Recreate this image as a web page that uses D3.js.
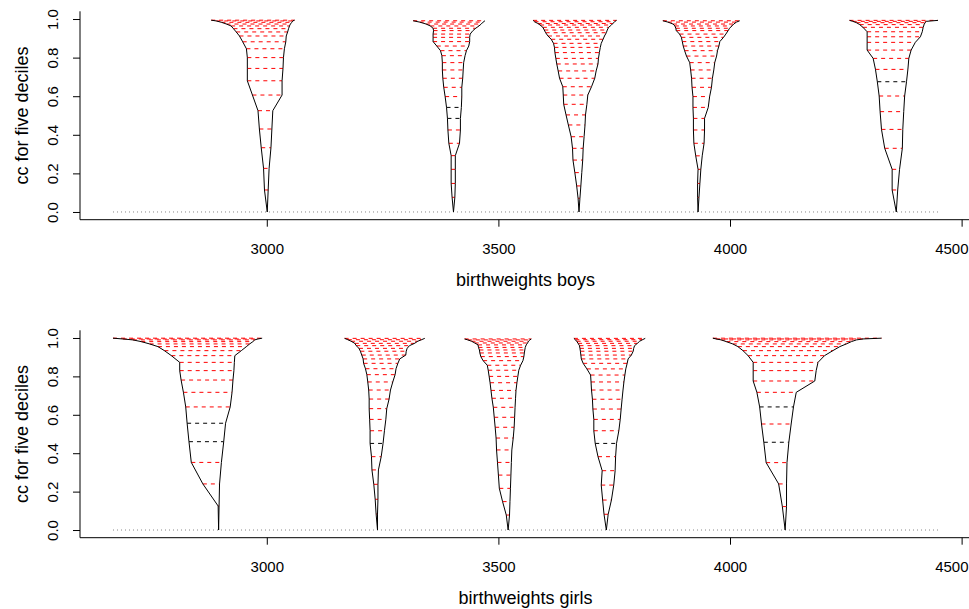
<!DOCTYPE html>
<html>
<head>
<meta charset="utf-8">
<script src="https://cdn.jsdelivr.net/npm/d3@7"></script>
<style>
  body { margin: 0; background: #fff; }
  text { font-family: "Liberation Sans", Arial, sans-serif; }
</style>
</head>
<body>
<svg id="chart" width="969" height="609"></svg>
<script>
// tick values
const xTicks = [3000, 3500, 4000, 4500];
const yTicks = [0, 0.2, 0.4, 0.6, 0.8, 1.0];

//----------- boys : one funnel per decile -----------//
const boysDeciles = [3001, 3403, 3674, 3931, 4359];
const boysLevels = [
  [0.114, 0.226, 0.333, 0.43, 0.525, 0.606, 0.68, 0.744, 0.80, 0.846, 0.882, 0.912, 0.933, 0.95, 0.964, 0.974, 0.983, 0.99, 0.994],
  [0.076, 0.148, 0.221, 0.292, 0.356, 0.425, 0.485, 0.542, 0.598, 0.646, 0.693, 0.736, 0.774, 0.81, 0.836, 0.86, 0.883, 0.905, 0.922, 0.94, 0.952, 0.964, 0.974, 0.984, 0.991],
  [0.071, 0.135, 0.204, 0.269, 0.33, 0.39, 0.451, 0.503, 0.558, 0.606, 0.649, 0.693, 0.731, 0.767, 0.796, 0.826, 0.853, 0.874, 0.895, 0.912, 0.929, 0.943, 0.957, 0.969, 0.977, 0.986, 0.993],
  [0.076, 0.148, 0.221, 0.291, 0.356, 0.425, 0.485, 0.542, 0.598, 0.646, 0.693, 0.736, 0.774, 0.808, 0.836, 0.86, 0.883, 0.905, 0.922, 0.94, 0.952, 0.964, 0.974, 0.984, 0.991],
  [0.114, 0.221, 0.33, 0.428, 0.52, 0.601, 0.675, 0.739, 0.796, 0.839, 0.879, 0.908, 0.934, 0.957, 0.971, 0.981, 0.988, 0.993]
];
const boysLower = [
  [2995, 2993, 2988, 2984, 2981, 2969, 2958, 2958, 2958, 2956, 2948, 2941, 2934, 2928, 2923, 2913, 2902, 2891, 2880],
  [3400, 3398, 3398, 3398, 3393, 3391, 3390, 3388, 3385, 3382, 3380, 3379, 3379, 3378, 3375, 3367, 3359, 3359, 3359, 3360, 3359, 3353, 3344, 3330, 3316],
  [3672, 3669, 3665, 3661, 3660, 3657, 3651, 3646, 3641, 3640, 3639, 3632, 3629, 3626, 3624, 3622, 3621, 3619, 3614, 3607, 3602, 3599, 3596, 3590, 3585, 3578, 3575],
  [3930, 3930, 3931, 3926, 3922, 3921, 3921, 3920, 3920, 3918, 3917, 3915, 3913, 3906, 3902, 3899, 3897, 3895, 3891, 3884, 3883, 3881, 3877, 3866, 3855],
  [4350, 4350, 4334, 4327, 4324, 4322, 4318, 4314, 4309, 4296, 4296, 4296, 4296, 4287, 4280, 4273, 4265, 4258]
];
const boysUpper = [
  [3003, 3005, 3009, 3011, 3013, 3033, 3033, 3035, 3036, 3038, 3041, 3042, 3045, 3047, 3049, 3051, 3054, 3056, 3060],
  [3406, 3407, 3407, 3407, 3416, 3418, 3418, 3420, 3421, 3421, 3423, 3424, 3425, 3428, 3431, 3436, 3438, 3438, 3439, 3445, 3451, 3458, 3463, 3467, 3471],
  [3676, 3678, 3680, 3682, 3683, 3685, 3687, 3688, 3691, 3693, 3701, 3708, 3711, 3715, 3716, 3718, 3720, 3722, 3726, 3729, 3733, 3735, 3738, 3744, 3747, 3751, 3755],
  [3933, 3935, 3937, 3940, 3944, 3945, 3945, 3953, 3956, 3960, 3962, 3965, 3967, 3971, 3973, 3976, 3978, 3986, 3991, 3996, 3999, 4004, 4008, 4014, 4021],
  [4362, 4366, 4372, 4373, 4375, 4377, 4381, 4384, 4386, 4391, 4400, 4411, 4415, 4417, 4419, 4421, 4424, 4449]
];
// levels whose dashes are black instead of red
const boysBlack = [[], [6, 7], [], [], [6]];

//----------- girls -----------//
const girlsDeciles = [2896, 3239, 3521, 3733, 4119];
const girlsLevels = [
  [0.125, 0.24, 0.352, 0.46, 0.556, 0.641, 0.717, 0.781, 0.83, 0.873, 0.908, 0.934, 0.955, 0.969, 0.981, 0.99, 0.995, 0.999],
  [0.083, 0.16, 0.238, 0.313, 0.382, 0.451, 0.517, 0.576, 0.632, 0.682, 0.729, 0.771, 0.809, 0.84, 0.868, 0.891, 0.911, 0.931, 0.946, 0.96, 0.972, 0.983, 0.991, 0.998],
  [0.078, 0.148, 0.217, 0.286, 0.352, 0.417, 0.479, 0.535, 0.587, 0.639, 0.686, 0.727, 0.767, 0.8, 0.832, 0.858, 0.882, 0.903, 0.922, 0.9375, 0.951, 0.964, 0.974, 0.983, 0.99, 0.995],
  [0.082, 0.156, 0.234, 0.309, 0.382, 0.451, 0.517, 0.576, 0.63, 0.681, 0.729, 0.771, 0.807, 0.839, 0.868, 0.891, 0.911, 0.931, 0.946, 0.96, 0.972, 0.983, 0.991, 0.998],
  [0.122, 0.24, 0.351, 0.457, 0.552, 0.641, 0.717, 0.776, 0.83, 0.873, 0.908, 0.934, 0.955, 0.969, 0.981, 0.99, 0.995, 0.999]
];
const girlsLower = [
  [2895, 2862, 2837, 2832, 2828, 2825, 2820, 2815, 2812, 2812, 2794, 2779, 2765, 2747, 2729, 2711, 2689, 2668],
  [3236, 3234, 3231, 3227, 3226, 3223, 3223, 3222, 3221, 3221, 3220, 3218, 3216, 3213, 3209, 3208, 3205, 3202, 3199, 3193, 3190, 3182, 3175, 3168],
  [3517, 3509, 3502, 3500, 3498, 3496, 3495, 3493, 3491, 3489, 3486, 3484, 3482, 3480, 3478, 3476, 3467, 3462, 3460, 3459, 3457, 3456, 3449, 3442, 3434, 3427],
  [3728, 3725, 3722, 3724, 3715, 3709, 3706, 3706, 3704, 3703, 3701, 3700, 3699, 3691, 3683, 3679, 3678, 3677, 3676, 3675, 3672, 3669, 3666, 3663],
  [4113, 4105, 4078, 4073, 4068, 4064, 4058, 4050, 4050, 4050, 4039, 4028, 4017, 4006, 3992, 3981, 3970, 3963]
];
const girlsUpper = [
  [2897, 2898, 2902, 2907, 2911, 2921, 2925, 2927, 2929, 2930, 2931, 2945, 2956, 2963, 2970, 2974, 2981, 2990],
  [3239, 3240, 3240, 3241, 3247, 3251, 3254, 3257, 3259, 3264, 3267, 3272, 3277, 3279, 3283, 3287, 3300, 3301, 3303, 3308, 3319, 3326, 3334, 3341],
  [3524, 3525, 3526, 3527, 3528, 3529, 3532, 3534, 3535, 3536, 3537, 3538, 3540, 3542, 3544, 3548, 3553, 3555, 3556, 3557, 3558, 3560, 3563, 3565, 3568, 3571],
  [3737, 3744, 3749, 3752, 3753, 3755, 3760, 3763, 3765, 3767, 3769, 3771, 3773, 3775, 3778, 3780, 3787, 3791, 3792, 3794, 3800, 3805, 3811, 3817],
  [4122, 4122, 4123, 4127, 4132, 4137, 4143, 4183, 4186, 4190, 4204, 4222, 4237, 4251, 4262, 4273, 4287, 4327]
];
const girlsBlack = [[3, 4], [5], [], [5], [3, 5]];

//----------- layout -----------//
const W = 969;
const svg = d3.select("#chart");
svg.append("rect").attr("width", W).attr("height", 609).attr("fill", "#fff");

const plotLeft = 80, plotRight = 971;

// shared x range: all values, widened 4% like R does
const allX = [boysLower, boysUpper, girlsLower, girlsUpper].flat(2);
const xMin = d3.min(allX), xMax = d3.max(allX);
const pad = (xMax - xMin) * 0.04;
const x = d3.scaleLinear().domain([xMin - pad, xMax + pad]).range([plotLeft, plotRight]);

const panels = [
  { top: 11.3, bottom: 219.7, title: "birthweights boys",
    deciles: boysDeciles, levels: boysLevels, lower: boysLower, upper: boysUpper, black: boysBlack },
  { top: 330.3, bottom: 537.7, title: "birthweights girls",
    deciles: girlsDeciles, levels: girlsLevels, lower: girlsLower, upper: girlsUpper, black: girlsBlack }
];

function drawPanel(p) {
  const y = d3.scaleLinear().domain([-0.04, 1.04]).range([p.bottom, p.top]);
  const g = svg.append("g");
  const line = d3.line().x(d => x(d[0])).y(d => y(d[1]));

  // dotted zero line over the data range
  g.append("line")
    .attr("x1", x(xMin)).attr("x2", x(xMax))
    .attr("y1", y(0)).attr("y2", y(0))
    .attr("stroke", "#888").attr("stroke-dasharray", "1,3");

  p.deciles.forEach((dec, k) => {
    const lv = p.levels[k], lo = p.lower[k], hi = p.upper[k];

    // one dashed segment per confidence level
    g.append("g").selectAll("line")
      .data(lv)
      .join("line")
      .attr("x1", (v, i) => x(lo[i]))
      .attr("x2", (v, i) => x(hi[i]))
      .attr("y1", v => y(v))
      .attr("y2", v => y(v))
      .attr("stroke", (v, i) => p.black[k].includes(i) ? "#000" : "#ff0000")
      .attr("stroke-width", 1)
      .attr("stroke-dasharray", "4,4");

    // left and right edges of the funnel
    const leftPts = [[dec, 0]].concat(lo.map((v, i) => [v, lv[i]]));
    const rightPts = [[dec, 0]].concat(hi.map((v, i) => [v, lv[i]]));
    [leftPts, rightPts].forEach(pts => {
      g.append("path")
        .attr("d", line(pts))
        .attr("fill", "none")
        .attr("stroke", "#000")
        .attr("stroke-width", 1);
    });
  });

  // L shaped box, bottom edge runs to the page edge
  g.append("path")
    .attr("d", `M${plotLeft},${p.top}V${p.bottom}H${W}`)
    .attr("fill", "none").attr("stroke", "#000");

  // y axis
  const ya = g.append("g")
    .attr("transform", `translate(${plotLeft},0)`)
    .call(d3.axisLeft(y).tickValues(yTicks).tickFormat(d3.format(".1f")).tickSize(7));
  ya.select(".domain").remove();
  ya.selectAll("text")
    .attr("x", null).attr("dy", null)
    .attr("transform", "translate(-22,0) rotate(-90)")
    .attr("text-anchor", "middle")
    .attr("fill", "#000")
    .style("font-size", "15px");

  // x axis
  const xa = g.append("g")
    .attr("transform", `translate(0,${p.bottom})`)
    .call(d3.axisBottom(x).tickValues(xTicks).tickFormat(d3.format("d")).tickSize(7));
  xa.select(".domain").remove();
  xa.selectAll("text")
    .attr("y", 34).attr("dy", null)
    .attr("fill", "#000")
    .style("font-size", "15px");
  // keep the last label inside the page
  xa.selectAll(".tick").each(function(d) {
    const t = d3.select(this).select("text");
    const w = t.node().getComputedTextLength();
    const over = x(d) + w / 2 - (W - 1);
    if (over > 0) t.attr("x", -over);
  });
  ya.attr("font-family", null);
  xa.attr("font-family", null);

  // titles
  g.append("text")
    .attr("x", (plotLeft + plotRight) / 2)
    .attr("y", p.bottom + 66)
    .attr("text-anchor", "middle")
    .style("font-size", "18px")
    .text(p.title);

  g.append("text")
    .attr("transform", `translate(${plotLeft - 52.5},${(p.top + p.bottom) / 2}) rotate(-90)`)
    .attr("text-anchor", "middle")
    .style("font-size", "18px")
    .text("cc for five deciles");
}

panels.forEach(drawPanel);
</script>
</body>
</html>
